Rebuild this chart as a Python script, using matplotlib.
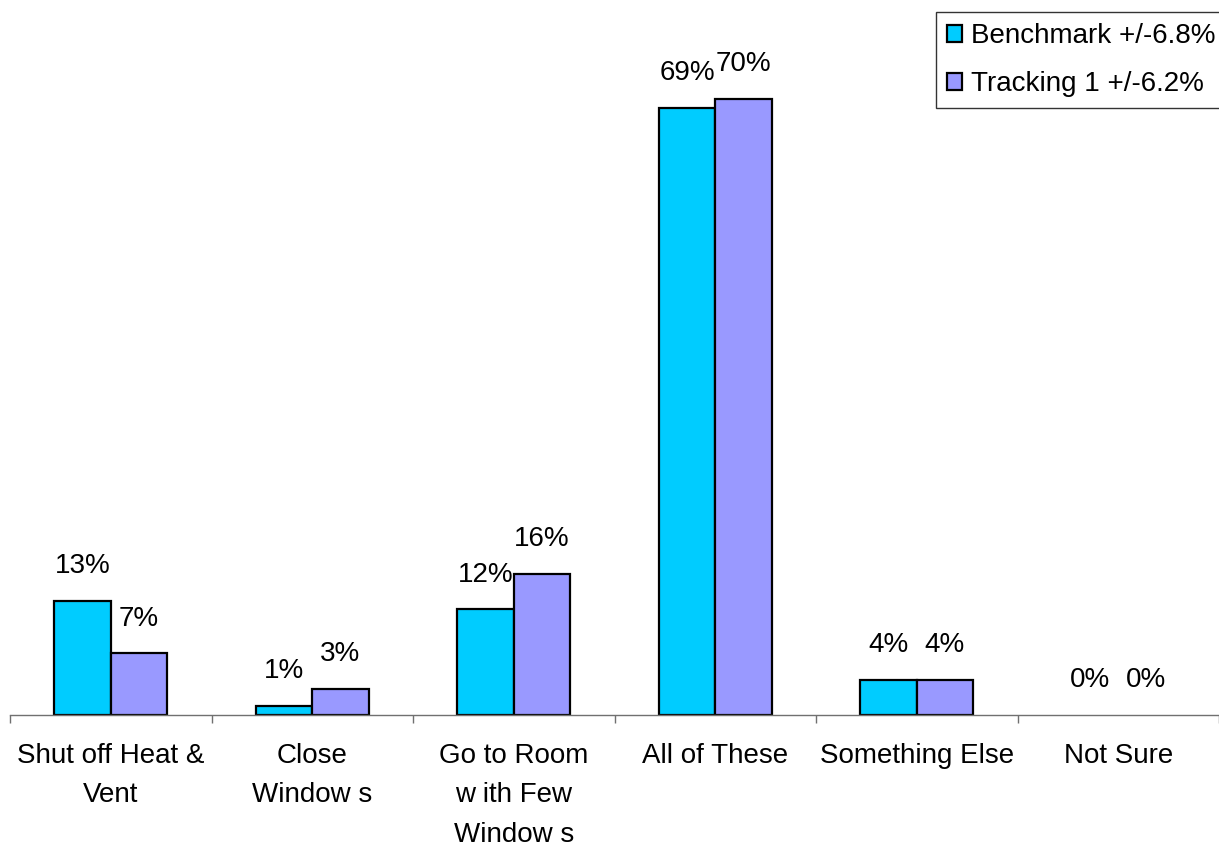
import matplotlib

matplotlib.use("Agg")

import matplotlib.pyplot as plt
import numpy as np

# data
categories = [
    "Shut off Heat &\nVent",
    "Close\nWindow s",
    "Go to Room\nw ith Few\nWindow s",
    "All of These",
    "Something Else",
    "Not Sure",
]
benchmark = [13, 1, 12, 69, 4, 0]
tracking = [7, 3, 16, 70, 4, 0]
series_names = ["Benchmark +/-6.8%", "Tracking 1 +/-6.2%"]
series_colors = ["#00CCFF", "#9999FF"]

plt.rcParams["font.family"] = ["Liberation Sans", "DejaVu Sans"]

fig = plt.figure(figsize=(12.19, 8.42), dpi=100)
ax = fig.add_axes([10 / 1219, 127 / 842, 1 - 10 / 1219, 715 / 842])

x = np.arange(len(categories))
width = 0.28
for i, (vals, name, col) in enumerate(zip([benchmark, tracking], series_names, series_colors)):
    pos = x + (i - 0.5) * width
    edges = ["black" if v > 0 else "none" for v in vals]
    ax.bar(pos, vals, width, color=col, edgecolor=edges, linewidth=1.6, label=name)
    for px, v in zip(pos, vals):
        ax.annotate(f"{v}%", (px, v), xytext=(0, 25), textcoords="offset points",
                    ha="center", va="center", fontsize=20)

ax.set_xlim(-0.5, len(categories) - 0.5)
ax.set_ylim(0, 81.25)

for s in ["top", "right", "left"]:
    ax.spines[s].set_visible(False)
ax.spines["bottom"].set_color("#707070")
ax.spines["bottom"].set_linewidth(1.0)
ax.set_yticks([])

# group separators as major ticks, category names as minor labels
ax.set_xticks(np.arange(len(categories) + 1) - 0.5)
ax.set_xticklabels([])
ax.set_xticks(x, minor=True)
ax.set_xticklabels(categories, minor=True, fontsize=20, linespacing=1.68)
ax.tick_params(axis="x", which="major", direction="out", length=6, width=1.0, color="#707070")
ax.tick_params(axis="x", which="minor", length=0, pad=20)

leg = fig.legend(loc="upper left", bbox_to_anchor=(936 / 1219, 1 - 12 / 842), borderaxespad=0,
                 fontsize=20, frameon=True, fancybox=False, edgecolor="black",
                 handlelength=0.55, handleheight=0.55, handletextpad=0.3,
                 labelspacing=0.8, borderpad=0.4)
leg.get_frame().set_linewidth(1.0)

fig.savefig("out.png", dpi=100)
